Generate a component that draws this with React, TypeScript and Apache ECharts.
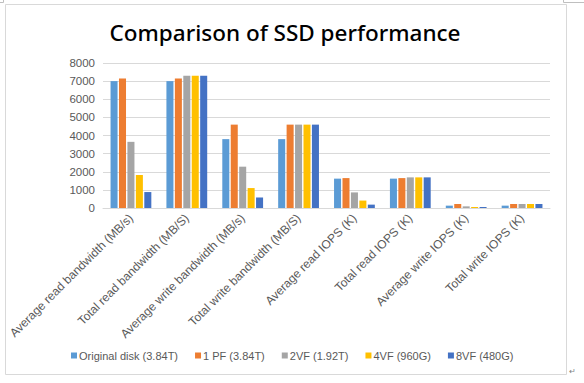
import React, { useEffect, useRef } from "react";
import * as echarts from "echarts";

const categories = [
  "Average read bandwidth (MB/s)",
  "Total read bandwidth (MB/S)",
  "Average write bandwidth (MB/s)",
  "Total write bandwidth (MB/S)",
  "Average read IOPS (K)",
  "Total read IOPS (K)",
  "Average write IOPS (K)",
  "Total write IOPS (K)",
];

const seriesNames = ["Original disk (3.84T)", "1 PF (3.84T)", "2VF (1.92T)", "4VF (960G)", "8VF (480G)"];

const originalDisk = [7000, 7000, 3800, 3800, 1620, 1620, 130, 130];
const onePF = [7150, 7150, 4600, 4600, 1650, 1650, 220, 220];
const twoVF = [3650, 7300, 2280, 4600, 860, 1690, 90, 220];
const fourVF = [1820, 7300, 1100, 4600, 410, 1690, 55, 220];
const eightVF = [880, 7300, 580, 4600, 186, 1690, 55, 220];

const seriesData = [originalDisk, onePF, twoVF, fourVF, eightVF];
const colors = ["#5B9BD5", "#ED7D31", "#A5A5A5", "#FFC000", "#4472C4"];

const titleText = "Comparison of SSD performance";

export default function App() {
  const ref = useRef<HTMLDivElement>(null);
  useEffect(() => {
    if (!ref.current) return;
    const chart = echarts.init(ref.current, null, { renderer: "svg" });
    const font = "'Liberation Sans', Arial, sans-serif";
    chart.setOption({
      animation: false,
      backgroundColor: "#ffffff",
      legend: {
        bottom: 17,
        left: 66,
        itemWidth: 6,
        itemHeight: 6,
        itemGap: 17,
        icon: "rect",
        textStyle: { fontFamily: font, fontSize: 11, color: "#595959", padding: [0, 0, 0, -3] },
        data: seriesNames,
      },
      grid: { left: 103, right: 34, top: 63, bottom: 175, containLabel: false },
      xAxis: {
        type: "category",
        data: categories,
        axisLine: { lineStyle: { color: "#d9d9d9" } },
        axisTick: { show: false },
        axisLabel: {
          rotate: 45,
          interval: 0,
          margin: 8,
          fontFamily: font,
          fontSize: 12,
          color: "#595959",
        },
      },
      yAxis: {
        type: "value",
        min: 0,
        max: 8000,
        interval: 1000,
        axisLine: { show: false },
        axisTick: { show: false },
        splitLine: { lineStyle: { color: "#d9d9d9" } },
        axisLabel: {
          fontFamily: font,
          fontSize: 11.5,
          color: "#595959",
          margin: 8,
          formatter: (v: number) => String(v),
        },
      },
      series: seriesNames.map((name, i) => ({
        name,
        type: "bar",
        data: seriesData[i],
        barGap: "20%",
        barCategoryGap: "27%",
        itemStyle: { color: colors[i] },
      })),
      graphic: [
        {
          type: "rect",
          shape: { x: 5.5, y: 4.5, width: 561, height: 370 },
          style: { fill: "none", stroke: "#d9d9d9", lineWidth: 1 },
          silent: true,
        },
        {
          type: "text",
          x: 285,
          y: 32,
          style: {
            text: titleText,
            fontFamily: "'Noto Sans', sans-serif",
            fontSize: 22.5,
            fontWeight: 500,
            fill: "#000000",
            textAlign: "center",
            textVerticalAlign: "middle",
          },
        },
        {
          type: "polyline",
          shape: { points: [[0, 2.5], [3.5, 2.5], [3.5, 0]] },
          style: { fill: "none", stroke: "#bfbfbf", lineWidth: 1 },
        },
        {
          type: "polyline",
          shape: { points: [[563.5, 0], [563.5, 2.5], [584, 2.5]] },
          style: { fill: "none", stroke: "#bfbfbf", lineWidth: 1 },
        },
        {
          type: "text",
          x: 569,
          y: 367,
          style: { text: "↵", fontSize: 8, fill: "#7f7f7f", fontFamily: font },
        },
      ],
    });
    return () => chart.dispose();
  }, []);
  return (
    <div
      ref={ref}
      style={{ position: "fixed", left: 0, top: 0, width: 584, height: 383 }}
    />
  );
}
